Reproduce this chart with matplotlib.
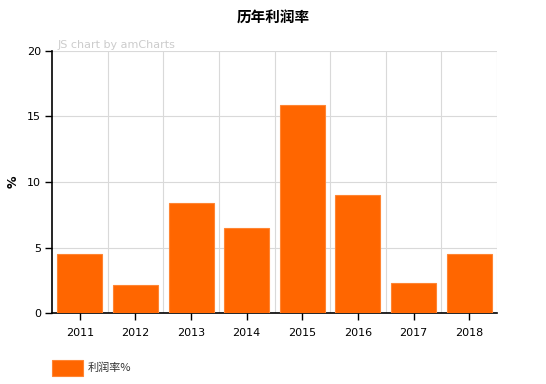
import matplotlib
matplotlib.use("Agg")
import matplotlib.pyplot as plt
from matplotlib.patches import Rectangle

years = ["2011", "2012", "2013", "2014", "2015", "2016", "2017", "2018"]
profit_rate = [4.5, 2.15, 8.4, 6.5, 15.9, 9.0, 2.3, 4.5]
title = "历年利润率"
series_name = "利润率%"
y_label = "%"

plt.rcParams['font.family'] = ['DejaVu Sans', 'Noto Sans CJK SC']
cjk = ['Noto Sans CJK SC', 'DejaVu Sans']

fig = plt.figure(figsize=(5.46, 3.84), dpi=100)
ax = fig.add_axes([52/546, 1-313/384, 445/546, 262/384])

x = list(range(len(years)))
ax.bar(x, profit_rate, width=0.81, color="#FF6600", edgecolor="#FF8533",
       linewidth=0.8, zorder=3)

ax.set_xlim(-0.5, len(years)-0.5)
ax.set_ylim(0, 20)
ax.set_yticks([0, 5, 10, 15, 20])
ax.set_xticks(x)
ax.set_xticklabels(years)
ax.tick_params(axis='both', labelsize=8, colors='#000000', length=5, width=1)
ax.tick_params(axis='x', pad=6)
ax.tick_params(axis='y', pad=3)

# gridlines
for yv in [5, 10, 15, 20]:
    ax.axhline(yv, color='#d9d9d9', linewidth=0.8, zorder=1)
for xb in [i + 0.5 for i in range(len(years))]:
    ax.axvline(xb, color='#d9d9d9', linewidth=0.8, zorder=1)

for s in ['top', 'right']:
    ax.spines[s].set_visible(False)
ax.spines['left'].set_color('#000000')
ax.spines['bottom'].set_color('#000000')
ax.spines['left'].set_linewidth(1.2)
ax.spines['bottom'].set_linewidth(1.2)

fig.text(13/546, 1-182/384, y_label, ha='center', va='center', rotation=90,
         fontsize=9, fontweight='bold')

fig.text(273/546, 1-18/384, title, ha='center', va='center', fontsize=10.5,
         fontweight='bold', family=cjk)
fig.text(58/546, 1-45/384, "JS chart by amCharts", ha='left', va='center',
         fontsize=8, color='#cccccc')

# legend
fig.patches.append(Rectangle((52/546, 1-376/384), 31/546, 16/384,
                             transform=fig.transFigure, facecolor='#FF6600',
                             edgecolor='#FF8533', linewidth=0.8))
fig.text(88/546, 1-368/384, series_name, ha='left', va='center', fontsize=8,
         color='#333333', family=cjk)

fig.savefig("out.png", dpi=100)
